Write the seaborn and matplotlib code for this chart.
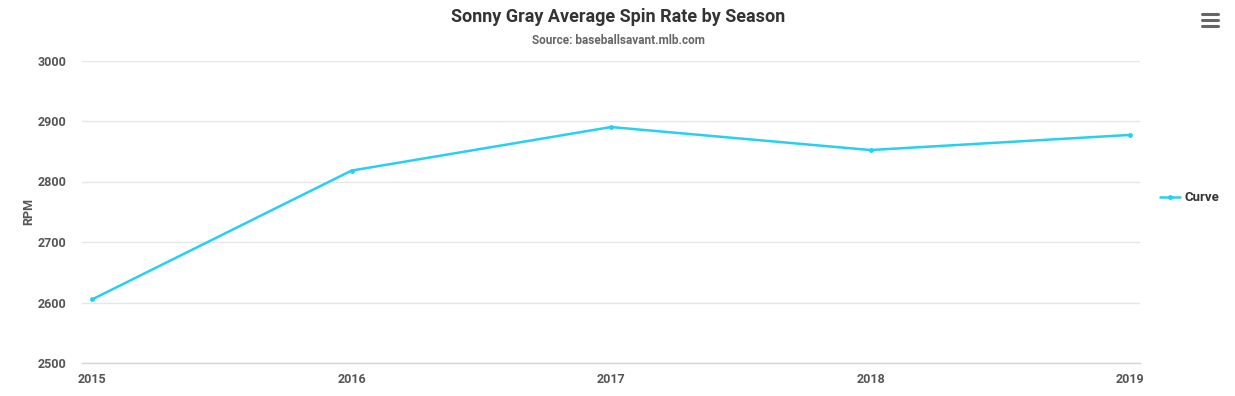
import matplotlib
matplotlib.use("Agg")
import matplotlib.pyplot as plt
import seaborn as sns
import pandas as pd

seasons = [2015, 2016, 2017, 2018, 2019]
curve_rpm = [2605, 2818, 2890, 2852, 2877]
series_name = "Curve"
y_ticks = [2500, 2600, 2700, 2800, 2900, 3000]

sns.set_theme(style="white")
plt.rcParams['font.family'] = ['Roboto', 'DejaVu Sans']

df = pd.DataFrame({"Season": seasons, "RPM": curve_rpm, "Series": series_name})

W, H = 1235, 396
fig = plt.figure(figsize=(W / 100, H / 100), dpi=100)
ax = fig.add_axes([82 / W, 1 - 363 / H, (1140 - 82) / W, (363 - 60.5) / H])

color = "#27d0ee"
sns.lineplot(data=df, x="Season", y="RPM", hue="Series", palette=[color],
             marker="o", markersize=3.5, markeredgewidth=0, linewidth=1.8, ax=ax)

span = 10 / 259.5
ax.set_xlim(2015 - span, 2019 + span)
ax.set_ylim(2500, 3000)
ax.set_yticks(y_ticks)
ax.set_xticks(seasons)
ax.set_xticklabels([str(s) for s in seasons])
ax.grid(axis="y", color="#e6e6e6", linewidth=1)
ax.grid(axis="x", visible=False)
for s in ["top", "right", "left"]:
    ax.spines[s].set_visible(False)
ax.spines["bottom"].set_color("#ccd6eb")
ax.spines["bottom"].set_linewidth(1)
ax.tick_params(axis="x", length=5, width=1, color="#ccd6eb", pad=2, labelsize=9, labelcolor="#555555")
ax.tick_params(axis="y", length=0, pad=11, labelsize=9, labelcolor="#555555")
for lab in ax.get_xticklabels() + ax.get_yticklabels():
    lab.set_fontweight("bold")

ax.set_xlabel("")
ax.set_ylabel("RPM", fontsize=9, fontweight="bold", color="#555555", labelpad=2)

leg = ax.legend(handles=ax.get_legend_handles_labels()[0], labels=[series_name],
                loc="center left", bbox_to_anchor=(1.008, 0.546), frameon=False,
                handlelength=1.5, handletextpad=0.35, prop={"weight": "bold", "size": 9.5})
for t in leg.get_texts():
    t.set_color("#333333")

fig.text(618 / W, 1 - 17 / H, "Sonny Gray Average Spin Rate by Season", ha="center", va="center",
         fontsize=13, fontweight="bold", color="#333333")
fig.text(618 / W, 1 - 41 / H, "Source: baseballsavant.mlb.com", ha="center", va="center",
         fontsize=8.5, fontweight="bold", color="#666666")

# menu icon
for yy in [14, 20, 26]:
    fig.add_artist(plt.Line2D([1202 / W, 1218 / W], [1 - yy / H, 1 - yy / H],
                              color="#666666", linewidth=2.2, solid_capstyle="round"))

fig.savefig("out.png", dpi=100, facecolor="white")
